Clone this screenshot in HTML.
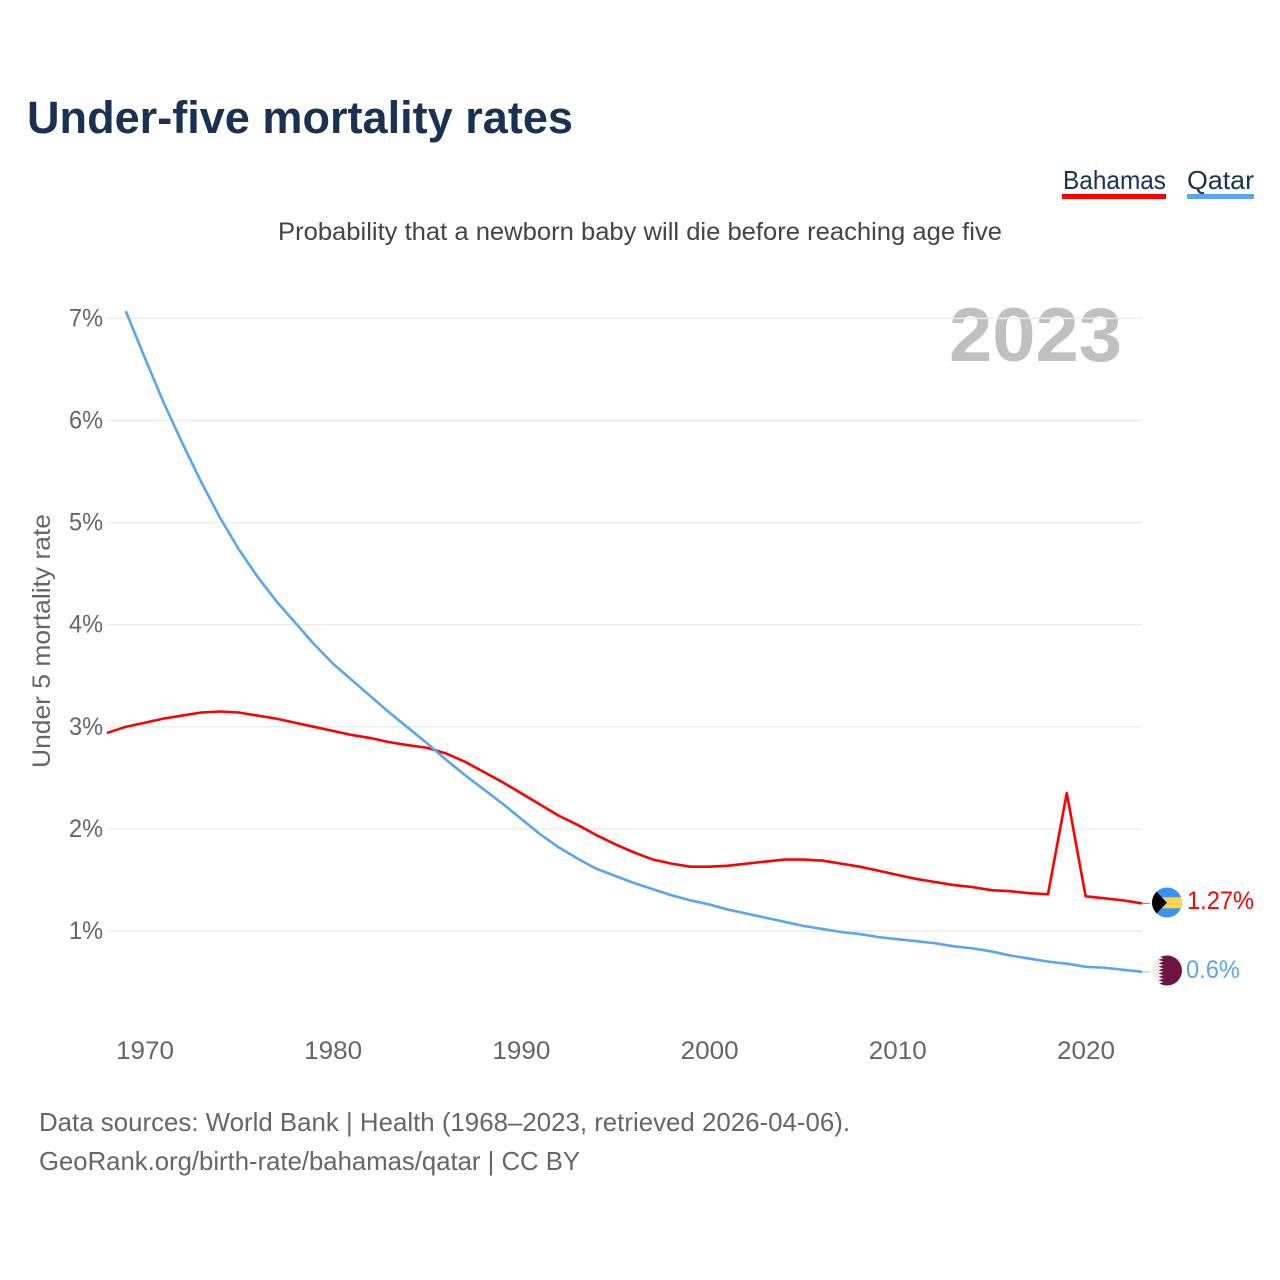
<!DOCTYPE html>
<html lang="en">
<head>
<meta charset="utf-8">
<title>Under-five mortality rates</title>
<style>
html,body{margin:0;padding:0;background:#fff;}
svg{display:block;font-family:"Liberation Sans",sans-serif;}
</style>
</head>
<body>
<svg id="chart" xmlns="http://www.w3.org/2000/svg" width="1280" height="1280" viewBox="0 0 1280 1280">
  <rect width="1280" height="1280" fill="#ffffff"/>
  <text x="27" y="133" font-size="45" font-weight="bold" fill="#1a3152" textLength="546" lengthAdjust="spacingAndGlyphs">Under-five mortality rates</text>
  <text x="278" y="240" font-size="25" fill="#444444" textLength="724" lengthAdjust="spacingAndGlyphs">Probability that a newborn baby will die before reaching age five</text>

  <g>
    <text x="1063" y="189" font-size="26" fill="#1a3152" textLength="103" lengthAdjust="spacingAndGlyphs">Bahamas</text>
    <rect x="1062" y="194" width="104" height="5" fill="#ff0000"/>
  </g>
  <g>
    <text x="1187" y="189" font-size="26" fill="#1a3152" textLength="67" lengthAdjust="spacingAndGlyphs">Qatar</text>
    <rect x="1187" y="194" width="67" height="5" fill="#5ba4ee"/>
  </g>

  <text x="949" y="361" font-size="76" font-weight="bold" fill="#c0c0c0" textLength="173" lengthAdjust="spacingAndGlyphs">2023</text>

  <text transform="translate(50,768) rotate(-90)" x="0" y="0" font-size="25" fill="#666666" textLength="254" lengthAdjust="spacingAndGlyphs">Under 5 mortality rate</text>

  <g id="grid"></g>
  <g id="yticks"></g>
  <g id="xticks"></g>
  <g id="series"></g>

  <defs>
    <clipPath id="clip-bs"><circle cx="1167" cy="902.5" r="15"/></clipPath>
    <clipPath id="clip-qa"><circle cx="1167" cy="970.5" r="15"/></clipPath>
  </defs>
  <g clip-path="url(#clip-bs)">
    <rect x="1152" y="887" width="30" height="31" fill="#3b92f0"/>
    <rect x="1152" y="897.3" width="30" height="11" fill="#ffd34f"/>
    <polygon points="1152,887 1167,902.7 1152,918" fill="#000000"/>
  </g>
  <g clip-path="url(#clip-qa)">
    <rect x="1152" y="955" width="30" height="31" fill="#eeeeee"/>
    <polygon points="1182,955 1162,955 1158.5,956.5 1163.5,958.2 1158.5,959.9 1163.5,961.6 1158.5,963.3 1163.5,965 1158.5,966.7 1163.5,968.4 1158.5,970.1 1163.5,971.8 1158.5,973.5 1163.5,975.2 1158.5,976.9 1163.5,978.6 1158.5,980.3 1163.5,982 1158.5,983.7 1162,986 1182,986" fill="#6f1541"/>
  </g>

  <text id="end-bs" x="1187" y="909" font-size="25" fill="#ff0000" textLength="67" lengthAdjust="spacingAndGlyphs">1.27%</text>
  <text id="end-qa" x="1186" y="978" font-size="25" fill="#5ba4ee" textLength="54" lengthAdjust="spacingAndGlyphs">0.6%</text>

  <text x="39" y="1131" font-size="26" fill="#666666" textLength="811" lengthAdjust="spacingAndGlyphs">Data sources: World Bank | Health (1968–2023, retrieved 2026-04-06).</text>
  <text x="39" y="1170" font-size="26" fill="#666666" textLength="541" lengthAdjust="spacingAndGlyphs">GeoRank.org/birth-rate/bahamas/qatar | CC BY</text>
</svg>
<script>
const yTicks = [1, 2, 3, 4, 5, 6, 7];
const xTicks = [1970, 1980, 1990, 2000, 2010, 2020];
const bahamasYears = [1968,1969,1970,1971,1972,1973,1974,1975,1976,1977,1978,1979,1980,1981,1982,1983,1984,1985,1986,1987,1988,1989,1990,1991,1992,1993,1994,1995,1996,1997,1998,1999,2000,2001,2002,2003,2004,2005,2006,2007,2008,2009,2010,2011,2012,2013,2014,2015,2016,2017,2018,2019,2020,2021,2022,2023];
const bahamasValues = [2.94,3.00,3.04,3.08,3.11,3.14,3.15,3.14,3.11,3.08,3.04,3.00,2.96,2.92,2.89,2.85,2.82,2.795,2.74,2.66,2.56,2.46,2.35,2.24,2.13,2.04,1.94,1.85,1.77,1.70,1.66,1.63,1.63,1.64,1.66,1.68,1.70,1.70,1.69,1.66,1.63,1.59,1.55,1.51,1.48,1.45,1.43,1.40,1.39,1.37,1.36,2.35,1.34,1.32,1.30,1.27];
const qatarYears = [1969,1970,1971,1972,1973,1974,1975,1976,1977,1978,1979,1980,1981,1982,1983,1984,1985,1986,1987,1988,1989,1990,1991,1992,1993,1994,1995,1996,1997,1998,1999,2000,2001,2002,2003,2004,2005,2006,2007,2008,2009,2010,2011,2012,2013,2014,2015,2016,2017,2018,2019,2020,2021,2022,2023];
const qatarValues = [7.07,6.62,6.18,5.78,5.40,5.05,4.74,4.47,4.23,4.02,3.81,3.62,3.46,3.30,3.14,2.99,2.84,2.68,2.53,2.39,2.25,2.10,1.95,1.82,1.71,1.61,1.54,1.47,1.41,1.35,1.30,1.26,1.21,1.17,1.13,1.09,1.05,1.02,0.99,0.97,0.94,0.92,0.90,0.88,0.85,0.83,0.80,0.76,0.73,0.70,0.68,0.65,0.64,0.62,0.60];

const NS = 'http://www.w3.org/2000/svg';
const xScale = function (year) { return 144.6 + (year - 1970) * 18.82; };
const yScale = function (v) { return 931 - (v - 1) * 102.1; };
const plotLeft = 107;
const plotRight = 1142;

function make(tag, attrs, parent) {
  const el = document.createElementNS(NS, tag);
  Object.keys(attrs).forEach(function (k) { el.setAttribute(k, attrs[k]); });
  parent.appendChild(el);
  return el;
}

const gridGroup = document.getElementById('grid');
const yGroup = document.getElementById('yticks');
const xGroup = document.getElementById('xticks');
const seriesGroup = document.getElementById('series');

yTicks.forEach(function (t) {
  const line = make('line', {x1: plotLeft, x2: plotRight, y1: yScale(t), y2: yScale(t), stroke: '#ececec', 'stroke-width': 1.5}, gridGroup);
  
  
  const label = make('text', {x: 69, y: yScale(t) + 8, 'font-size': 25, fill: '#666666', textLength: 34, lengthAdjust: 'spacingAndGlyphs'}, yGroup);
  
  
  label.textContent = t + '%';
});

xTicks.forEach(function (t) {
  const label = make('text', {x: xScale(t) + 0.4 - 29, y: 1059, 'font-size': 25, fill: '#666666', textLength: 58, lengthAdjust: 'spacingAndGlyphs'}, xGroup);
  
  
  label.textContent = t;
});

function drawSeries(years, values, color, name, connectorTo) {
  const pts = years.map(function (y, i) { return xScale(y).toFixed(2) + ',' + yScale(values[i]).toFixed(2); }).join(' ');
  const poly = make('polyline', {points: pts, fill: 'none', stroke: color, 'stroke-width': 2.6, 'stroke-linejoin': 'round'}, seriesGroup);
  
  
  const last = values[values.length - 1];
  const conn = make('line', {x1: xScale(years[years.length - 1]), x2: connectorTo, y1: yScale(last), y2: yScale(last), stroke: color, 'stroke-width': 1.2, opacity: 0.6}, seriesGroup);
  
  
}

drawSeries(bahamasYears, bahamasValues, '#ff0000', 'series-bahamas', 1150);
drawSeries(qatarYears, qatarValues, '#5ba4ee', 'series-qatar', 1150);
</script>
</body>
</html>
